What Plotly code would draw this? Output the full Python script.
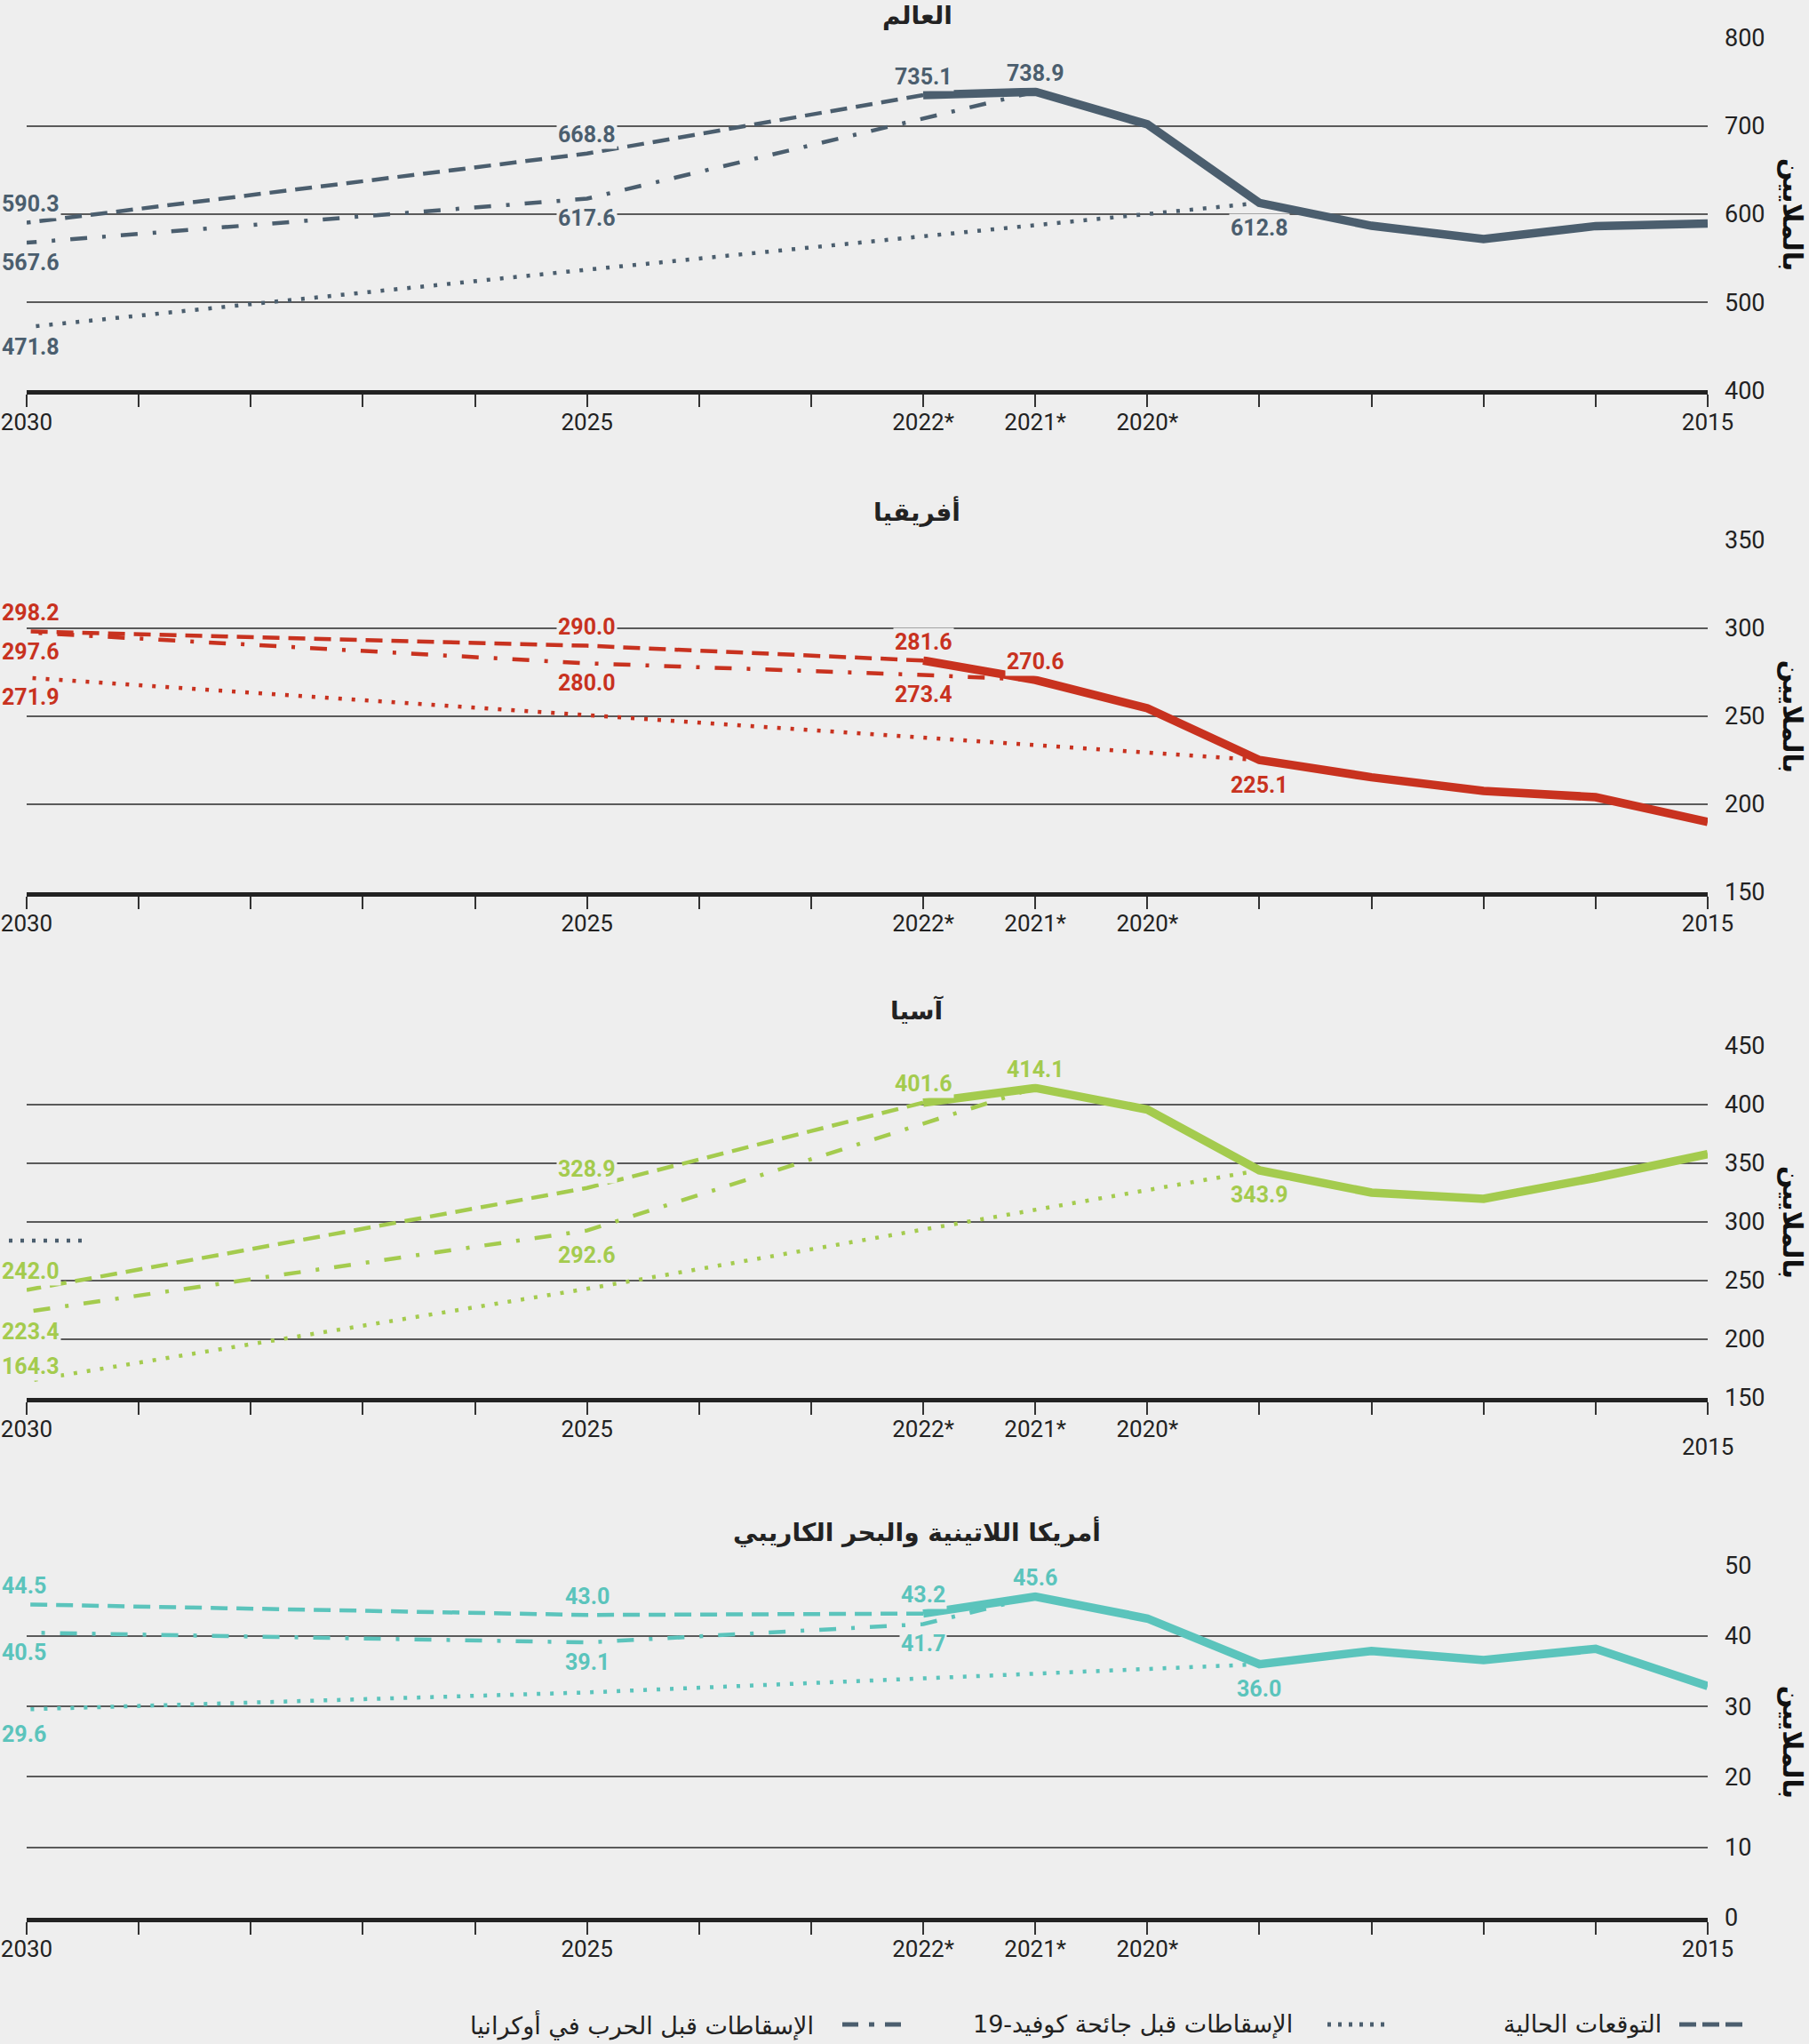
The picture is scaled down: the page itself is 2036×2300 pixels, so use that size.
import plotly.graph_objects as go

# ---------------- data ----------------
tick_years = list(range(2015, 2031))
tick_labels = ["2015", "", "", "", "", "2020*", "2021*", "2022*", "", "", "2025", "", "", "", "", "2030"]

actual_years = [2015, 2016, 2017, 2018, 2019, 2020, 2021, 2022]

world_actual = [589.3, 586.5, 571.8, 586.8, 612.8, 702.0, 738.9, 735.1]
world_current_years = [2022, 2025, 2030]
world_current = [735.1, 668.8, 590.3]
world_prewar_years = [2021, 2025, 2030]
world_prewar = [738.9, 617.6, 567.6]
world_precovid_years = [2019, 2025, 2030]
world_precovid = [612.8, 537.0, 471.8]

africa_actual = [189.9, 204.0, 207.5, 215.3, 225.1, 254.5, 270.6, 281.6]
africa_current_years = [2022, 2025, 2030]
africa_current = [281.6, 290.0, 298.2]
africa_prewar_years = [2021, 2022, 2025, 2030]
africa_prewar = [270.6, 273.4, 280.0, 297.6]
africa_precovid_years = [2019, 2025, 2030]
africa_precovid = [225.1, 250.4, 271.9]

asia_actual = [357.8, 337.6, 319.7, 324.9, 343.9, 395.7, 414.1, 401.6]
asia_current_years = [2022, 2025, 2030]
asia_current = [401.6, 328.9, 242.0]
asia_prewar_years = [2021, 2025, 2030]
asia_prewar = [414.1, 292.6, 223.4]
asia_precovid_years = [2019, 2025, 2030]
asia_precovid = [343.9, 243.0, 164.3]

latam_actual = [32.9, 38.2, 36.6, 37.9, 36.0, 42.5, 45.6, 43.2]
latam_current_years = [2022, 2025, 2030]
latam_current = [43.2, 43.0, 44.5]
latam_prewar_years = [2021, 2022, 2025, 2030]
latam_prewar = [45.6, 41.7, 39.1, 40.5]
latam_precovid_years = [2019, 2025, 2030]
latam_precovid = [36.0, 32.0, 29.6]

titles = ["العالم", "أفريقيا", "آسيا", "أمريكا اللاتينية والبحر الكاريبي"]
y_title = "بالملايين"
legend_texts = ["التوقعات الحالية", "الإسقاطات قبل جائحة كوفيد-19", "الإسقاطات قبل الحرب في أوكرانيا"]

y_ticks = [
    [400, 500, 600, 700, 800],
    [150, 200, 250, 300, 350],
    [150, 200, 250, 300, 350, 400, 450],
    [0, 10, 20, 30, 40, 50],
]

# labels: (series, year, placement)
labels = [
    [("current", 2030, "up"), ("prewar", 2030, "down"), ("precovid", 2030, "down"),
     ("current", 2025, "up"), ("prewar", 2025, "down"),
     ("actual", 2022, "up"), ("actual", 2021, "up"), ("actual", 2019, "low")],
    [("current", 2030, "up"), ("prewar", 2030, "down"), ("precovid", 2030, "down"),
     ("current", 2025, "up"), ("prewar", 2025, "down"),
     ("actual", 2022, "up"), ("prewar", 2022, "down"), ("actual", 2021, "up"), ("actual", 2019, "low")],
    [("current", 2030, "up"), ("prewar", 2030, "down"), ("precovid", 2030, "up2"),
     ("current", 2025, "up"), ("prewar", 2025, "low"),
     ("actual", 2022, "up"), ("actual", 2021, "up"), ("actual", 2019, "low")],
    [("current", 2030, "up"), ("prewar", 2030, "down"), ("precovid", 2030, "low"),
     ("current", 2025, "up"), ("prewar", 2025, "down"),
     ("actual", 2022, "up"), ("prewar", 2022, "down"), ("actual", 2021, "up"), ("actual", 2019, "low")],
]

# ---------------- style ----------------
BG = "#eeeeee"
colors = ["#4b5e6e", "#c8321f", "#a4cb4e", "#5bc4bc"]
NUM_FONT = "Roboto"
AR_FONT = "DejaVu Sans"
W, H = 2036, 2300
LEFT_PX = 30
x_dom = [LEFT_PX / W, 1922 / W]
panel_px = [(42.7, 439.3), (607.7, 1004.0), (1176.8, 1573.0), (1761.8, 2157.9)]
title_px = [17, 575, 1137, 1723]
offsets = {"up": 21, "up2": 17, "down": -22, "low": -28}
DASH = "19px,10px"
DOT = "4px,11px"
DASHDOT = "19px,17px,4px,17px"

panels = [
    (world_actual, world_current_years, world_current, world_prewar_years, world_prewar,
     world_precovid_years, world_precovid),
    (africa_actual, africa_current_years, africa_current, africa_prewar_years, africa_prewar,
     africa_precovid_years, africa_precovid),
    (asia_actual, asia_current_years, asia_current, asia_prewar_years, asia_prewar,
     asia_precovid_years, asia_precovid),
    (latam_actual, latam_current_years, latam_current, latam_prewar_years, latam_prewar,
     latam_precovid_years, latam_precovid),
]

fig = go.Figure()
annotations = []
shapes = []
layout = {}

for i, (act, cy, cv, py, pv, qy, qv) in enumerate(panels):
    n = "" if i == 0 else str(i + 1)
    xa, ya = "x" + n, "y" + n
    col = colors[i]
    series = {
        "actual": (actual_years, act),
        "current": (cy, cv),
        "prewar": (py, pv),
        "precovid": (qy, qv),
    }
    fig.add_trace(go.Scatter(x=qy, y=qv, mode="lines", xaxis=xa, yaxis=ya,
                             line=dict(color=col, width=4.5, dash=DOT), hoverinfo="skip"))
    fig.add_trace(go.Scatter(x=py, y=pv, mode="lines", xaxis=xa, yaxis=ya,
                             line=dict(color=col, width=4.5, dash=DASHDOT), hoverinfo="skip"))
    fig.add_trace(go.Scatter(x=cy, y=cv, mode="lines", xaxis=xa, yaxis=ya,
                             line=dict(color=col, width=4.5, dash=DASH), hoverinfo="skip"))
    fig.add_trace(go.Scatter(x=actual_years, y=act, mode="lines", xaxis=xa, yaxis=ya,
                             line=dict(color=col, width=9.5), hoverinfo="skip"))

    top, bot = panel_px[i]
    tt = list(tick_labels)
    if i == 2:
        tt[0] = ""
    layout["xaxis" + n] = dict(
        domain=x_dom, anchor=ya, range=[2030, 2015], tickmode="array",
        tickvals=tick_years, ticktext=tt, ticks="outside", ticklen=14, tickwidth=1.5,
        tickcolor="#333333", showline=True, linewidth=5, linecolor="#222222",
        showgrid=False, zeroline=False, fixedrange=True, automargin=False,
        ticklabeloverflow="allow", ticklabelstandoff=-6,
        tickfont=dict(family=NUM_FONT, size=26, color="#222222"),
    )
    yt = y_ticks[i]
    layout["yaxis" + n] = dict(
        domain=[1 - bot / H, 1 - top / H], anchor=xa, side="right",
        range=[yt[0], yt[-1]], tickmode="array", tickvals=yt,
        showgrid=True, gridcolor="#5a5a5a", gridwidth=1.5, zeroline=False,
        showline=False, ticks="", ticklabelstandoff=18, fixedrange=True, automargin=False,
        ticklabeloverflow="allow",
        tickfont=dict(family=NUM_FONT, size=27, color="#222222"),
    )

    # title
    annotations.append(dict(text="<b>" + titles[i] + "</b>", xref="paper", yref="paper",
                            x=1032 / W, y=1 - title_px[i] / H, showarrow=False,
                            xanchor="center", yanchor="middle",
                            font=dict(family=AR_FONT, size=28, color="#222222")))
    # y-axis title
    annotations.append(dict(text="<b>" + y_title + "</b>", xref="paper", yref="paper",
                            x=2017 / W, y=1 - (top + bot) / 2 / H, showarrow=False,
                            textangle=90, xanchor="center", yanchor="middle",
                            font=dict(family=AR_FONT, size=30, color="#111111")))
    # value labels
    for (key, yr, place) in labels[i]:
        xs, vs = series[key]
        v = vs[xs.index(yr)]
        edge = (yr == 2030)
        annotations.append(dict(text="%.1f" % v, x=yr, y=v, xref=xa, yref=ya,
                                showarrow=False,
                                xanchor="left" if edge else "center",
                                xshift=-LEFT_PX if edge else 0,
                                yanchor="middle",
                                yshift=offsets[place], bgcolor=BG, borderpad=1,
                                font=dict(family=NUM_FONT, size=25, color=col, weight="bold")))
    if i == 2:
        annotations.append(dict(text="2015", x=2015, y=0, xref=xa, yref=ya + " domain",
                                showarrow=False, xanchor="center", yanchor="middle",
                                yshift=-55,
                                font=dict(family=NUM_FONT, size=26, color="#222222")))
        # stray dotted sample at the left of the Asia panel
        shapes.append(dict(type="line", xref="paper", yref=ya, x0=10 / W, x1=92 / W,
                           y0=284, y1=284, line=dict(color=colors[0], width=4.5, dash="4px,9px")))

# legend (right-to-left)
leg_y = 1 - 2278 / H
leg_items = [
    (legend_texts[0], 1872, 1890, 1961, "19px,7px"),
    (legend_texts[1], 1457, 1494, 1558, "4px,8px"),
    (legend_texts[2], 918, 948, 1026, "18px,12px,6px,12px"),
]
for text, tr, s0, s1, dash in leg_items:
    annotations.append(dict(text=text, xref="paper", yref="paper", x=tr / W, y=leg_y,
                            showarrow=False, xanchor="right", yanchor="middle",
                            font=dict(family=AR_FONT, size=27, color="#222222")))
    shapes.append(dict(type="line", xref="paper", yref="paper", x0=s0 / W, x1=s1 / W,
                       y0=leg_y, y1=leg_y, line=dict(color=colors[0], width=5, dash=dash)))

fig.update_layout(
    width=W, height=H, margin=dict(l=0, r=0, t=0, b=0, autoexpand=False),
    paper_bgcolor=BG, plot_bgcolor=BG, showlegend=False,
    annotations=annotations, shapes=shapes, **layout,
)

fig.write_html("out.html", config={"displayModeBar": False},
               post_script="document.body.style.margin='0';document.body.style.overflow='hidden';")
